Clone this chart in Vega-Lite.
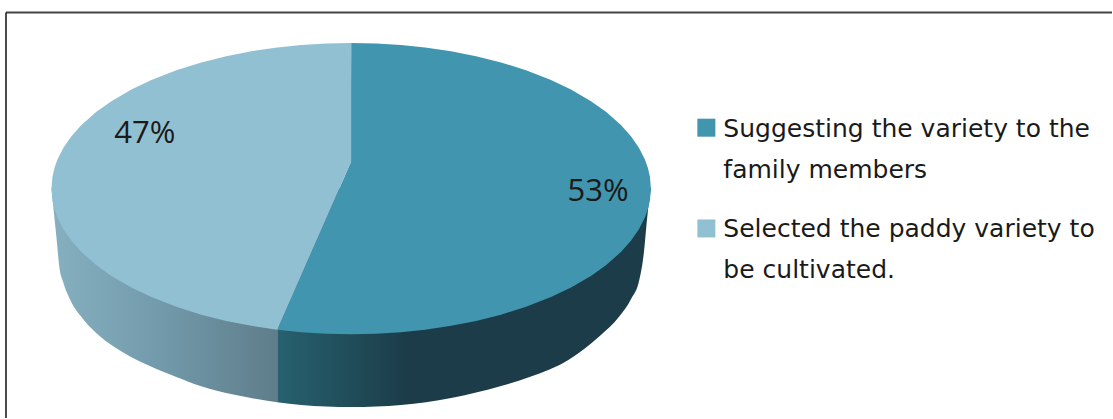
{
  "$schema": "https://vega.github.io/schema/vega-lite/v6.json",
  "autosize": {"type": "fit", "contains": "padding"},
  "width": 1113,
  "height": 419,
  "padding": 0,
  "background": "#ffffff",
  "config": {"view": {"stroke": null}},
  "datasets": {
    "slices": [
      {"category": "Suggesting the variety to the\nfamily members", "share": 0.53, "labelU": 247, "labelV": -3, "keyU": 355.5, "keyV": 61},
      {"category": "Selected the paddy variety to\nbe cultivated.", "share": 0.47, "labelU": -206.5, "labelV": 55, "keyU": 355.5, "keyV": -40}
    ],
    "topFace": [
      {"category": "Suggesting the variety to the\nfamily members", "u": -74, "upper": -141.5, "lower": -141.5},
      {"category": "Suggesting the variety to the\nfamily members", "u": -50, "upper": -86.9, "lower": -144},
      {"category": "Suggesting the variety to the\nfamily members", "u": -25, "upper": -29.9, "lower": -145.5},
      {"category": "Suggesting the variety to the\nfamily members", "u": -0.5, "upper": 26, "lower": -146},
      {"category": "Suggesting the variety to the\nfamily members", "u": 0, "upper": 146, "lower": -146},
      {"category": "Suggesting the variety to the\nfamily members", "u": 25, "upper": 145.5, "lower": -145.5},
      {"category": "Suggesting the variety to the\nfamily members", "u": 50, "upper": 144, "lower": -144},
      {"category": "Suggesting the variety to the\nfamily members", "u": 74, "upper": 141.5, "lower": -141.5},
      {"category": "Suggesting the variety to the\nfamily members", "u": 100, "upper": 137.6, "lower": -137.6},
      {"category": "Suggesting the variety to the\nfamily members", "u": 125, "upper": 132.7, "lower": -132.7},
      {"category": "Suggesting the variety to the\nfamily members", "u": 150, "upper": 126.4, "lower": -126.4},
      {"category": "Suggesting the variety to the\nfamily members", "u": 175, "upper": 118.6, "lower": -118.6},
      {"category": "Suggesting the variety to the\nfamily members", "u": 200, "upper": 108.8, "lower": -108.8},
      {"category": "Suggesting the variety to the\nfamily members", "u": 220, "upper": 99.3, "lower": -99.3},
      {"category": "Suggesting the variety to the\nfamily members", "u": 240, "upper": 87.6, "lower": -87.6},
      {"category": "Suggesting the variety to the\nfamily members", "u": 255, "upper": 76.9, "lower": -76.9},
      {"category": "Suggesting the variety to the\nfamily members", "u": 270, "upper": 63.6, "lower": -63.6},
      {"category": "Suggesting the variety to the\nfamily members", "u": 280, "upper": 52.4, "lower": -52.4},
      {"category": "Suggesting the variety to the\nfamily members", "u": 288, "upper": 40.9, "lower": -40.9},
      {"category": "Suggesting the variety to the\nfamily members", "u": 294, "upper": 29, "lower": -29},
      {"category": "Suggesting the variety to the\nfamily members", "u": 297, "upper": 20.6, "lower": -20.6},
      {"category": "Suggesting the variety to the\nfamily members", "u": 299, "upper": 11.9, "lower": -11.9},
      {"category": "Suggesting the variety to the\nfamily members", "u": 300, "upper": 0, "lower": 0},
      {"category": "Selected the paddy variety to\nbe cultivated.", "u": -300, "upper": 0, "lower": 0},
      {"category": "Selected the paddy variety to\nbe cultivated.", "u": -299, "upper": 11.9, "lower": -11.9},
      {"category": "Selected the paddy variety to\nbe cultivated.", "u": -297, "upper": 20.6, "lower": -20.6},
      {"category": "Selected the paddy variety to\nbe cultivated.", "u": -294, "upper": 29, "lower": -29},
      {"category": "Selected the paddy variety to\nbe cultivated.", "u": -288, "upper": 40.9, "lower": -40.9},
      {"category": "Selected the paddy variety to\nbe cultivated.", "u": -280, "upper": 52.4, "lower": -52.4},
      {"category": "Selected the paddy variety to\nbe cultivated.", "u": -270, "upper": 63.6, "lower": -63.6},
      {"category": "Selected the paddy variety to\nbe cultivated.", "u": -255, "upper": 76.9, "lower": -76.9},
      {"category": "Selected the paddy variety to\nbe cultivated.", "u": -240, "upper": 87.6, "lower": -87.6},
      {"category": "Selected the paddy variety to\nbe cultivated.", "u": -220, "upper": 99.3, "lower": -99.3},
      {"category": "Selected the paddy variety to\nbe cultivated.", "u": -200, "upper": 108.8, "lower": -108.8},
      {"category": "Selected the paddy variety to\nbe cultivated.", "u": -175, "upper": 118.6, "lower": -118.6},
      {"category": "Selected the paddy variety to\nbe cultivated.", "u": -150, "upper": 126.4, "lower": -126.4},
      {"category": "Selected the paddy variety to\nbe cultivated.", "u": -125, "upper": 132.7, "lower": -132.7},
      {"category": "Selected the paddy variety to\nbe cultivated.", "u": -100, "upper": 137.6, "lower": -137.6},
      {"category": "Selected the paddy variety to\nbe cultivated.", "u": -74, "upper": 141.5, "lower": -141.5},
      {"category": "Selected the paddy variety to\nbe cultivated.", "u": -50, "upper": 144, "lower": -86.9},
      {"category": "Selected the paddy variety to\nbe cultivated.", "u": -25, "upper": 145.5, "lower": -29.9},
      {"category": "Selected the paddy variety to\nbe cultivated.", "u": 0, "upper": 146, "lower": 27}
    ],
    "leftWall": [
      {"u": -300, "edge": 0},
      {"u": -298.2, "edge": -18},
      {"u": -294.8, "edge": -51},
      {"u": -292.2, "edge": -78},
      {"u": -288.2, "edge": -94},
      {"u": -281.5, "edge": -111},
      {"u": -268.2, "edge": -131},
      {"u": -251.5, "edge": -148},
      {"u": -228.5, "edge": -164},
      {"u": -201.5, "edge": -178},
      {"u": -175, "edge": -189},
      {"u": -151, "edge": -198},
      {"u": -118, "edge": -206.5},
      {"u": -74, "edge": -214.2}
    ],
    "rightWall": [
      {"u": -74, "edge": -214.2},
      {"u": -50, "edge": -217},
      {"u": -25, "edge": -218.5},
      {"u": 0, "edge": -219},
      {"u": 25, "edge": -218.5},
      {"u": 50, "edge": -217},
      {"u": 100, "edge": -210},
      {"u": 150, "edge": -198},
      {"u": 178.5, "edge": -189},
      {"u": 218.5, "edge": -171},
      {"u": 248.5, "edge": -148},
      {"u": 268.5, "edge": -128},
      {"u": 280, "edge": -111},
      {"u": 288.5, "edge": -91},
      {"u": 292.5, "edge": -68},
      {"u": 296.8, "edge": -24},
      {"u": 300, "edge": 0}
    ],
    "frame": [{"left": -345.5, "right": 761.5, "top": 176.5, "bottom": -230}]
  },
  "layer": [
    {
      "data": {"name": "frame"},
      "mark": {"type": "rule", "color": "#444444", "strokeWidth": 2},
      "encoding": {
        "x": {"field": "left", "type": "quantitative", "scale": {"domain": [-351.5, 761.5], "nice": false, "zero": false}, "axis": null},
        "x2": {"field": "right"},
        "y": {"field": "top", "type": "quantitative", "scale": {"domain": [-230, 189], "nice": false, "zero": false}, "axis": null}
      }
    },
    {
      "data": {"name": "frame"},
      "mark": {"type": "rule", "color": "#111111", "strokeWidth": 1.5},
      "encoding": {
        "x": {"field": "left", "type": "quantitative"},
        "y": {"field": "top", "type": "quantitative"},
        "y2": {"field": "bottom"}
      }
    },
    {
      "data": {"name": "leftWall"},
      "mark": {
        "type": "area",
        "interpolate": "monotone",
        "color": {
          "gradient": "linear", "x1": 0, "y1": 0, "x2": 1, "y2": 0,
          "stops": [
            {"offset": 0, "color": "#86B0C0"},
            {"offset": 0.5, "color": "#7199AA"},
            {"offset": 1, "color": "#5F7D8A"}
          ]
        }
      },
      "encoding": {
        "x": {"field": "u", "type": "quantitative"},
        "y": {"field": "edge", "type": "quantitative", "stack": null},
        "y2": {"datum": 0}
      }
    },
    {
      "data": {"name": "rightWall"},
      "mark": {
        "type": "area",
        "interpolate": "monotone",
        "color": {
          "gradient": "linear", "x1": 0, "y1": 0, "x2": 1, "y2": 0,
          "stops": [
            {"offset": 0, "color": "#27616F"},
            {"offset": 0.35, "color": "#1B3C48"},
            {"offset": 1, "color": "#1B3C48"}
          ]
        }
      },
      "encoding": {
        "x": {"field": "u", "type": "quantitative"},
        "y": {"field": "edge", "type": "quantitative", "stack": null},
        "y2": {"datum": 0}
      }
    },
    {
      "data": {"name": "topFace"},
      "mark": {"type": "area", "opacity": 1},
      "encoding": {
        "x": {"field": "u", "type": "quantitative"},
        "y": {"field": "upper", "type": "quantitative", "stack": null},
        "y2": {"field": "lower"},
        "color": {
          "field": "category", "type": "nominal", "legend": null,
          "scale": {
            "domain": ["Suggesting the variety to the\nfamily members", "Selected the paddy variety to\nbe cultivated."],
            "range": ["#4195AF", "#92C0D3"]
          }
        }
      }
    },
    {
      "data": {"name": "slices"},
      "mark": {"type": "text", "font": "Open Sans", "fontSize": 31, "color": "#1a1a1a", "align": "center", "baseline": "middle"},
      "encoding": {
        "x": {"field": "labelU", "type": "quantitative"},
        "y": {"field": "labelV", "type": "quantitative"},
        "text": {"field": "share", "type": "quantitative", "format": ".0%"}
      }
    },
    {
      "data": {"name": "slices"},
      "mark": {"type": "point", "shape": "square", "filled": true, "opacity": 1, "size": 324},
      "encoding": {
        "x": {"field": "keyU", "type": "quantitative"},
        "y": {"field": "keyV", "type": "quantitative"},
        "color": {"field": "category", "type": "nominal", "legend": null}
      }
    },
    {
      "data": {"name": "slices"},
      "mark": {"type": "text", "font": "DejaVu Sans", "fontSize": 25, "color": "#1a1a1a", "align": "left", "baseline": "middle", "lineBreak": "\n", "lineHeight": 41, "dx": 17, "dy": 1},
      "encoding": {
        "x": {"field": "keyU", "type": "quantitative"},
        "y": {"field": "keyV", "type": "quantitative"},
        "text": {"field": "category", "type": "nominal"}
      }
    }
  ]
}
